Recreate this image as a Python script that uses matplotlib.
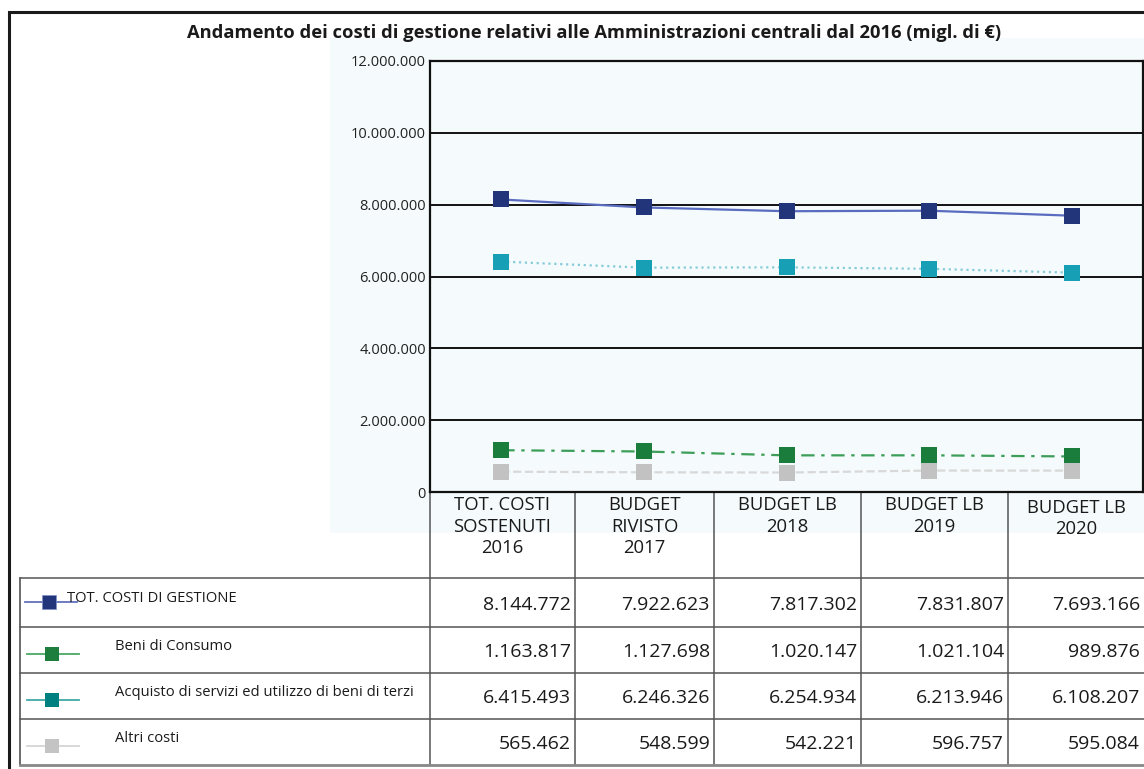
import matplotlib
matplotlib.use("Agg")
import matplotlib.pyplot as plt
from matplotlib.patches import Rectangle

plt.rcParams['font.family'] = ['Open Sans', 'DejaVu Sans']

# dati (migliaia di euro)
categorie = ["TOT. COSTI\nSOSTENUTI\n2016", "BUDGET\nRIVISTO\n2017",
             "BUDGET LB\n2018", "BUDGET LB\n2019", "BUDGET LB\n2020"]
serie = ["TOT. COSTI DI GESTIONE", "Beni di Consumo",
         "Acquisto di servizi ed utilizzo di beni di terzi", "Altri costi"]
tot_costi = [8144772, 7922623, 7817302, 7831807, 7693166]
beni_consumo = [1163817, 1127698, 1020147, 1021104, 989876]
acquisto_servizi = [6415493, 6246326, 6254934, 6213946, 6108207]
altri_costi = [565462, 548599, 542221, 596757, 595084]
y_ticks = [0, 2000000, 4000000, 6000000, 8000000, 10000000, 12000000]

valori = [tot_costi, beni_consumo, acquisto_servizi, altri_costi]

# stile per serie: (colore marker, colore linea, tipo linea)
stili = [("#22347a", "#5a6cc0", "-"),
         ("#1b7d3c", "#3c9e58", (0, (6, 3, 1.5, 3))),
         ("#17a0b5", "#86ccd8", ":"),
         ("#c2c2c2", "#d8d8d8", "--")]
stili_legenda = [("#22347a", "#6272bc"),
                 ("#1e7e3e", "#4aa865"),
                 ("#008080", "#40a8a8"),
                 ("#c4c4c4", "#d6d6d6")]

W, H = 1144, 769
fig = plt.figure(figsize=(W / 100, H / 100), dpi=100)
fig.patch.set_facecolor("white")

# asse "pixel" per cornice, tabella e sfondo
bg = fig.add_axes([0, 0, 1, 1], zorder=0)
bg.set_xlim(0, W)
bg.set_ylim(H, 0)
bg.axis("off")

bg.add_patch(Rectangle((330, 38), W - 330, 495, facecolor="#f5fbfc", edgecolor="none"))
# cornice esterna
bg.plot([9, 9, W], [H, 12, 12], color="#1a1a1a", lw=2.2, solid_joinstyle="miter")

bg.text(594, 33, "Andamento dei costi di gestione relativi alle Amministrazioni centrali dal 2016 (migl. di €)",
        ha="center", va="center", fontsize=13.2, fontweight="bold", color="#1a1a1a")

# griglia della tabella
col_x = [430, 575, 714, 861, 1008, W]
row_y = [578, 627, 673, 719, 765]
for x in col_x[:-1]:
    bg.plot([x, x], [492, 765], color="#555555", lw=1.1)
bg.plot([20, 20], [578, 765], color="#444444", lw=1.1)
for y in row_y:
    bg.plot([20, W], [y, y], color="#555555" if y != 765 else "#888888", lw=1.1 if y != 765 else 2)

# etichette categorie
for i, c in enumerate(categorie):
    cx = (col_x[i] + col_x[i + 1]) / 2
    top = 499 if i == len(categorie) - 1 else 496
    bg.text(cx, top, c, ha="center", va="top", fontsize=13.3, color="#1a1a1a", linespacing=1.25)

# righe della tabella: legenda + numeri
def fmt(v):
    return f"{v:,}".replace(",", ".")

for r, (nome, vals) in enumerate(zip(serie, valori)):
    y0, y1 = row_y[r], row_y[r + 1]
    mc, lc = stili_legenda[r]
    if r == 0:
        bg.plot([25, 77], [y0 + 24, y0 + 24], color=lc, lw=1.3)
        bg.plot([49], [y0 + 24], marker="s", ms=10.5, color=mc, mec="#8090c8", mew=0.5)
        bg.text(67, y0 + 21, nome, ha="left", va="center", fontsize=10.6, color="#1a1a1a")
    else:
        bg.plot([27, 79], [y0 + 27, y0 + 27], color=lc, lw=1.3)
        bg.plot([52], [y0 + 27], marker="s", ms=10.5, color=mc, mew=0)
        bg.text(115, y0 + 20, nome, ha="left", va="center", fontsize=10.6, color="#1a1a1a")
    for i, v in enumerate(vals):
        bg.text(col_x[i + 1] - 4, (y0 + y1) / 2 + 2, fmt(v), ha="right", va="center",
                fontsize=14, color="#1a1a1a")

# grafico
ax = fig.add_axes([430 / W, (H - 492) / H, (1143 - 430) / W, (492 - 61) / H], zorder=2)
ax.set_facecolor("none")
x = list(range(len(categorie)))
for vals, (mc, lc, ls) in zip(valori, stili):
    ax.plot(x, vals, color=lc, ls=ls, lw=1.6, zorder=3)
    ax.plot(x, vals, ls="none", marker="s", ms=11, color=mc, mew=0, zorder=4)

ax.set_xlim(-0.5, len(categorie) - 0.5)
ax.set_ylim(0, 12000000)
ax.set_yticks(y_ticks)
ax.set_yticklabels([fmt(t) for t in y_ticks], fontsize=10.5, color="#222222")
ax.tick_params(axis="y", length=0, pad=3)
ax.set_xticks([])
for t in y_ticks[1:-1]:
    ax.axhline(t, color="#111111", lw=1.4, zorder=1)
for s in ax.spines.values():
    s.set_color("#111111")
    s.set_linewidth(1.6)

fig.savefig("out.png", dpi=100)
